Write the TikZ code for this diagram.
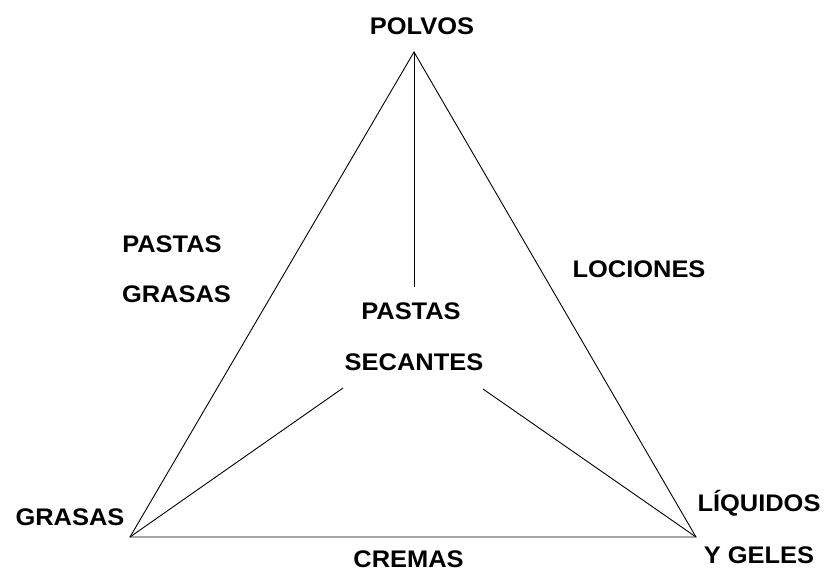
\documentclass[tikz,border=0pt]{standalone}
\usepackage{fontspec}
\setmainfont[FakeStretch=1.06]{Liberation Sans}
\begin{document}
\begin{tikzpicture}[x=1pt,y=-1pt,
  lbl/.style={font=\fontsize{24}{28}\selectfont\bfseries, inner sep=0pt, text height=17.4pt, text depth=0pt, anchor=center},
  edge/.style={line width=0.9pt, line join=miter}]
\useasboundingbox (0,0) rectangle (827,571);
\coordinate (top) at (414,52);
\coordinate (bl) at (130,537);
\coordinate (br) at (696,537);
\coordinate (vend) at (414,287);
\coordinate (lend) at (343,388);
\coordinate (rend) at (483,389);
\draw[edge] (top) -- (bl) -- (br) -- cycle;
\draw[edge] (top) -- (vend);
\draw[edge] (bl) -- (lend);
\draw[edge] (br) -- (rend);
\node[lbl] (polvos) at (422,26) {POLVOS};
\node[lbl] (pastasg1) at (172,243.5) {PASTAS};
\node[lbl] (pastasg2) at (176.5,293.5) {GRASAS};
\node[lbl] (lociones) at (639,269) {LOCIONES};
\node[lbl] (pastass1) at (411,311) {PASTAS};
\node[lbl] (pastass2) at (414,362) {SECANTES};
\node[lbl] (grasas) at (70,517) {GRASAS};
\node[lbl] (liq1) at (759,503) {LÍQUIDOS};
\node[lbl] (liq2) at (759,555) {Y GELES};
\node[lbl] (cremas) at (408.5,558.5) {CREMAS};
\end{tikzpicture}
\end{document}
